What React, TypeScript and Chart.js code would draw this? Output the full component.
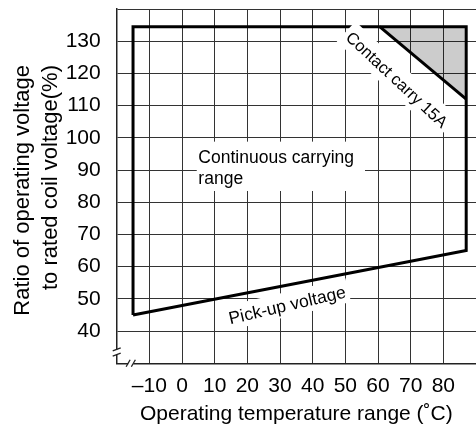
import React, { useEffect, useRef } from 'react';
import { Chart, registerables } from 'chart.js';

Chart.register(...registerables);

const FONT = '"Liberation Sans", Arial, Helvetica, sans-serif';

// ---- axis range & ticks ----
const xRange = [-20, 90];
const yRange = [30, 140];
const xTickValues = [-10, 0, 10, 20, 30, 40, 50, 60, 70, 80];
const xTickLabels = ['\u201310', '0', '10', '20', '30', '40', '50', '60', '70', '80'];
const yTickValues = [40, 50, 60, 70, 80, 90, 100, 110, 120, 130];
const yTickLabels = ['40', '50', '60', '70', '80', '90', '100', '110', '120', '130'];

// ---- series ----
const boundaryTemp = [-15, -15, 87, 87, -15];
const boundaryRatio = [45, 134.5, 134.5, 65, 45];
const contactTemp = [60.5, 87];
const contactRatio = [134.5, 112];
const shadeTemp = [60.5, 87, 87];
const shadeRatio = [134.5, 134.5, 112];

// ---- texts ----
const xTitle = 'Operating temperature range (\u02DAC)';
const yTitleLines = ['Ratio of operating voltage', 'to rated coil voltage(%)'];
const noteContinuous = ['Continuous carrying', 'range'];
const noteContact = ['Contact carry 15A'];
const notePickup = ['Pick-up voltage'];

const pts = (xs: number[], ys: number[]) => xs.map((x, i) => ({ x, y: ys[i] }));

type Note = {
  lines: string[];
  x: number;
  y: number;
  angle: number;
  align: 'left' | 'center';
  size: number;
  gap: number;
  pad: number[]; // l, t, r, b
  under: boolean;
};

const notes: Note[] = [
  { lines: noteContinuous, x: 5, y: 92.1, angle: 0, align: 'left', size: 17.5, gap: 21, pad: [1.6, 5.8, 11, 3], under: true },
  { lines: noteContact, x: 64.6, y: 116.8, angle: 43, align: 'center', size: 16.5, gap: 0, pad: [4, 5, 4, 4], under: false },
  { lines: notePickup, x: 32.6, y: 46.3, angle: -13.1, align: 'center', size: 17.5, gap: 0, pad: [3, 3, 3, 2], under: true },
];

function prep(chart: any, n: Note) {
  const ctx = chart.ctx as CanvasRenderingContext2D;
  const px = chart.scales.x.getPixelForValue(n.x);
  const py = chart.scales.y.getPixelForValue(n.y);
  ctx.translate(px, py);
  ctx.rotate((n.angle * Math.PI) / 180);
  ctx.font = `${n.size}px ${FONT}`;
  ctx.textBaseline = 'alphabetic';
  ctx.textAlign = n.align;
}

function drawBox(chart: any, n: Note) {
  const ctx = chart.ctx as CanvasRenderingContext2D;
  ctx.save();
  prep(chart, n);
  let maxW = 0;
  const asc = n.size * 0.905;
  const desc = n.size * 0.212;
  n.lines.forEach((l) => {
    const m = ctx.measureText(l);
    maxW = Math.max(maxW, m.width);
  });
  const left = n.align === 'left' ? 0 : -maxW / 2;
  const [pl, pt, pr, pb] = n.pad;
  ctx.fillStyle = '#ffffff';
  ctx.fillRect(
    left - pl,
    -asc - pt,
    maxW + pl + pr,
    asc + desc + (n.lines.length - 1) * n.gap + pt + pb
  );
  ctx.restore();
}

function drawText(chart: any, n: Note) {
  const ctx = chart.ctx as CanvasRenderingContext2D;
  ctx.save();
  prep(chart, n);
  ctx.fillStyle = '#000000';
  n.lines.forEach((l, i) => ctx.fillText(l, 0, i * n.gap));
  ctx.restore();
}

const notesPlugin = {
  id: 'notes',
  beforeDatasetsDraw(chart: any) {
    notes.filter((n) => n.under).forEach((n) => drawBox(chart, n));
  },
  afterDatasetsDraw(chart: any) {
    notes.filter((n) => !n.under).forEach((n) => drawBox(chart, n));
    notes.forEach((n) => drawText(chart, n));
  },
};

const yTitlePlugin = {
  id: 'yTitle',
  afterDraw(chart: any) {
    const ctx = chart.ctx as CanvasRenderingContext2D;
    const baseX = [29.3, 56.7];
    ctx.save();
    ctx.font = `22px ${FONT}`;
    ctx.fillStyle = '#000';
    ctx.textAlign = 'right';
    ctx.textBaseline = 'alphabetic';
    yTitleLines.forEach((l, i) => {
      ctx.save();
      ctx.translate(baseX[i], 65);
      ctx.rotate(-Math.PI / 2);
      ctx.fillText(l, 0, 0);
      ctx.restore();
    });
    ctx.restore();
  },
};

const breakPlugin = {
  id: 'breaks',
  afterDraw(chart: any) {
    const ctx = chart.ctx as CanvasRenderingContext2D;
    const { x, y } = chart.scales;
    const area = chart.chartArea;
    ctx.save();
    ctx.strokeStyle = '#222';
    ctx.lineWidth = 1.3;
    ctx.fillStyle = '#fff';
    const lx = area.left;
    const y1 = y.getPixelForValue(34.3);
    const y2 = y.getPixelForValue(32.7);
    ctx.fillRect(lx - 3, y1, 6, y2 - y1);
    [y1, y2].forEach((yy) => {
      ctx.beginPath();
      ctx.moveTo(lx - 4, yy + 1.5);
      ctx.lineTo(lx + 4, yy - 1.5);
      ctx.stroke();
    });
    const by = area.bottom;
    const x1 = x.getPixelForValue(-16.5);
    const x2 = x.getPixelForValue(-14.9);
    ctx.fillRect(x1, by - 3, x2 - x1, 6);
    [x1, x2].forEach((xx) => {
      ctx.beginPath();
      ctx.moveTo(xx - 2, by + 3.5);
      ctx.lineTo(xx + 2, by - 3.5);
      ctx.stroke();
    });
    ctx.restore();
  },
};

const zeroPad = (s: any) => {
  s.paddingTop = 0;
  s.paddingBottom = 0;
  s.paddingLeft = 0;
  s.paddingRight = 0;
};

export default function App() {
  const ref = useRef<HTMLCanvasElement | null>(null);

  useEffect(() => {
    if (!ref.current) return;
    const chart = new Chart(ref.current, {
      type: 'scatter',
      data: {
        datasets: [
          {
            data: pts(shadeTemp, shadeRatio),
            showLine: true,
            borderWidth: 0,
            borderColor: 'rgba(0,0,0,0)',
            backgroundColor: 'rgba(0,0,0,0.2)',
            fill: 'shape',
            pointRadius: 0,
          } as any,
          {
            data: pts(contactTemp, contactRatio),
            showLine: true,
            borderColor: '#000',
            borderWidth: 3,
            pointRadius: 0,
            fill: false,
          },
          {
            data: pts(boundaryTemp, boundaryRatio),
            showLine: true,
            borderColor: '#000',
            borderWidth: 3,
            borderJoinStyle: 'miter',
            pointRadius: 0,
            fill: false,
          },
        ],
      },
      options: {
        animation: false,
        responsive: false,
        events: [],
        layout: { padding: { top: 9, left: 0, right: 0, bottom: 0 } },
        plugins: {
          legend: { display: false },
          tooltip: { enabled: false },
        },
        scales: {
          x: {
            type: 'linear',
            min: xRange[0],
            max: xRange[1],
            afterFit: (s: any) => {
              s.height = 62.7;
              zeroPad(s);
            },
            grid: { color: '#333', lineWidth: 1, drawTicks: false },
            border: { display: true, color: '#222', width: 1.5 },
            ticks: {
              stepSize: 10,
              autoSkip: false,
              maxRotation: 0,
              padding: 10,
              color: '#000',
              font: { family: FONT, size: 21 },
              callback: (v: any) => {
                const i = xTickValues.indexOf(Number(v));
                return i >= 0 ? xTickLabels[i] : '';
              },
            },
            title: {
              display: true,
              text: xTitle,
              color: '#000',
              font: { family: FONT, size: 21, lineHeight: 1 },
              padding: { top: 0, bottom: 1 },
            },
          },
          y: {
            type: 'linear',
            min: yRange[0],
            max: yRange[1],
            afterFit: (s: any) => {
              s.width = 116.7;
              zeroPad(s);
            },
            grid: { color: '#333', lineWidth: 1, drawTicks: false },
            border: { display: true, color: '#222', width: 1.5 },
            ticks: {
              stepSize: 10,
              autoSkip: false,
              padding: 16,
              color: '#000',
              font: { family: FONT, size: 21 },
              callback: (v: any) => {
                const i = yTickValues.indexOf(Number(v));
                return i >= 0 ? yTickLabels[i] : '';
              },
            },
          },
        },
      },
      plugins: [notesPlugin, yTitlePlugin, breakPlugin],
    });
    return () => chart.destroy();
  }, []);

  return (
    <div style={{ position: 'absolute', left: 0, top: 0, width: 476, height: 426, background: '#fff' }}>
      <canvas ref={ref} width={476} height={426} style={{ width: 476, height: 426, display: 'block' }} />
    </div>
  );
}
